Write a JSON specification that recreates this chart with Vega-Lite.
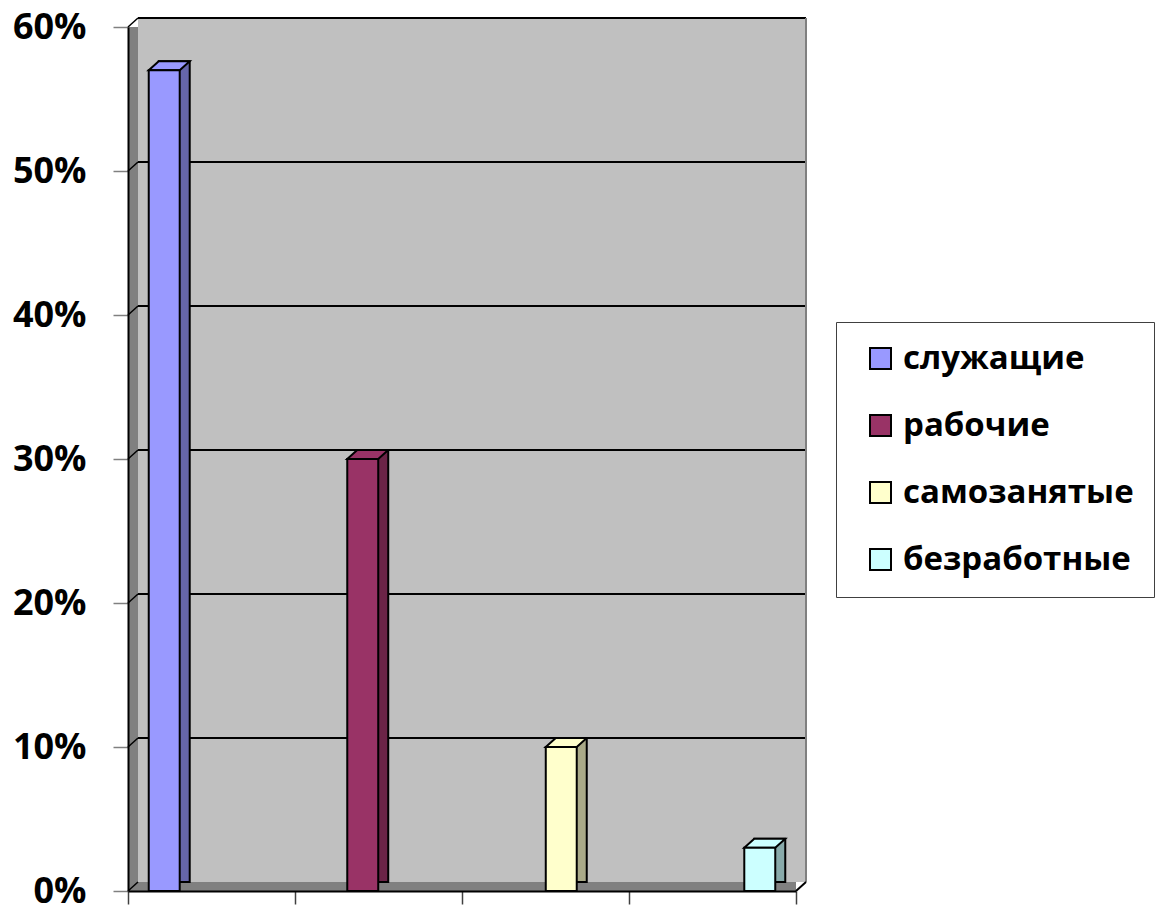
{
  "$schema": "https://vega.github.io/schema/vega-lite/v6.json",
  "width": 668,
  "height": 864,
  "autosize": "none",
  "padding": {"left": 128, "top": 27, "right": 366, "bottom": 19},
  "background": "white",
  "config": {
    "view": {"fill": "#808080", "stroke": null},
    "font": "Open Sans",
    "axisY": {"labelFont": "Open Sans", "labelFontWeight": "bold", "labelFontSize": 36, "labelColor": "black", "tickSize": 15, "tickColor": "#808080", "tickWidth": 1.5, "labelPadding": 27, "domainColor": "black", "domainWidth": 2, "grid": false, "tickCount": 7},
    "axisX": {"labels": false, "tickBand": "extent", "ticks": true, "tickSize": 13, "tickColor": "#404040", "tickWidth": 1.5, "domainColor": "black", "domainWidth": 2, "grid": false}
  },
  "datasets": {
    "bars": [
      {"cat": "служащие", "value": 0.57},
      {"cat": "рабочие", "value": 0.30},
      {"cat": "самозанятые", "value": 0.10},
      {"cat": "безработные", "value": 0.03}
    ],
    "grid": [
      {"t": 0.1}, {"t": 0.2}, {"t": 0.3}, {"t": 0.4}, {"t": 0.5}, {"t": 0.6}
    ],
    "edges": [
      {"t": 0}, {"t": 0.1}, {"t": 0.2}, {"t": 0.3}, {"t": 0.4}, {"t": 0.5}, {"t": 0.6}
    ],
    "one": [{}]
  },
  "layer": [
    {
      "layer": [
        {
          "data": {"name": "one"},
          "mark": {"type": "rect", "fill": "#C0C0C0", "xOffset": 10, "x2Offset": 10, "yOffset": -9, "y2Offset": -9},
          "encoding": {
            "x": {"datum": "1", "type": "nominal", "bandPosition": 0, "scale": {"type": "band", "domain": ["1", "2", "3", "4"], "paddingInner": 0, "paddingOuter": 0}, "axis": {"title": null}},
            "x2": {"datum": "4", "bandPosition": 1},
            "y": {"datum": 0, "type": "quantitative", "scale": {"domain": [0, 0.6], "nice": false}, "axis": {"title": null, "format": ".0%"}},
            "y2": {"datum": 0.6}
          }
        },
        {
          "data": {"name": "grid"},
          "mark": {"type": "rule", "color": "black", "strokeWidth": 2, "xOffset": 10, "x2Offset": 10, "yOffset": -9, "y2Offset": -9},
          "encoding": {
            "x": {"datum": "1", "type": "nominal", "bandPosition": 0, "scale": {"type": "band", "domain": ["1", "2", "3", "4"], "paddingInner": 0, "paddingOuter": 0}, "axis": {"title": null}},
            "x2": {"datum": "4", "bandPosition": 1},
            "y": {"field": "t", "type": "quantitative", "scale": {"domain": [0, 0.6], "nice": false}, "axis": {"title": null, "format": ".0%"}},
            "y2": {"field": "t"}
          }
        },
        {
          "data": {"name": "edges"},
          "mark": {"type": "rule", "color": "black", "strokeWidth": 1.5, "x2Offset": 10, "y2Offset": -9},
          "encoding": {
            "x": {"datum": "1", "type": "nominal", "bandPosition": 0, "scale": {"type": "band", "domain": ["1", "2", "3", "4"], "paddingInner": 0, "paddingOuter": 0}, "axis": {"title": null}},
            "x2": {"datum": "1", "bandPosition": 0},
            "y": {"field": "t", "type": "quantitative", "scale": {"domain": [0, 0.6], "nice": false}, "axis": {"title": null, "format": ".0%"}},
            "y2": {"field": "t"}
          }
        },
        {
          "data": {"name": "one"},
          "mark": {"type": "rule", "color": "#808080", "strokeWidth": 2, "xOffset": 10, "x2Offset": 10, "yOffset": -9, "y2Offset": -9},
          "encoding": {
            "x": {"datum": "4", "type": "nominal", "bandPosition": 1, "scale": {"type": "band", "domain": ["1", "2", "3", "4"], "paddingInner": 0, "paddingOuter": 0}, "axis": {"title": null}},
            "x2": {"datum": "4", "bandPosition": 1},
            "y": {"datum": 0, "type": "quantitative", "scale": {"domain": [0, 0.6], "nice": false}, "axis": {"title": null, "format": ".0%"}},
            "y2": {"datum": 0.6}
          }
        },
        {
          "data": {"name": "one"},
          "mark": {"type": "rule", "color": "black", "strokeWidth": 2, "x2Offset": 10, "y2Offset": -9},
          "encoding": {
            "x": {"datum": "4", "type": "nominal", "bandPosition": 1, "scale": {"type": "band", "domain": ["1", "2", "3", "4"], "paddingInner": 0, "paddingOuter": 0}, "axis": {"title": null}},
            "x2": {"datum": "4", "bandPosition": 1},
            "y": {"datum": 0, "type": "quantitative", "scale": {"domain": [0, 0.6], "nice": false}, "axis": {"title": null, "format": ".0%"}},
            "y2": {"datum": 0}
          }
        }
      ]
    },
    {
      "data": {"name": "bars"},
      "layer": [
        {
          "mark": {"type": "bar", "stroke": "black", "strokeWidth": 2, "xOffset": 10, "yOffset": -9, "y2Offset": -9},
          "encoding": {
            "x": {"field": "cat", "type": "nominal", "sort": null, "scale": {"type": "band", "paddingInner": 0.844, "paddingOuter": 0.1045}, "axis": null},
            "y": {"field": "value", "type": "quantitative", "scale": {"domain": [0, 0.6], "nice": false}, "axis": {"title": null, "format": ".0%"}},
            "y2": {"datum": 0},
            "fill": {"field": "cat", "type": "nominal", "sort": null, "scale": {"domain": ["безработные", "самозанятые", "рабочие", "служащие"], "range": ["#88AAAA", "#AAAA88", "#6B2447", "#6666AA"]}, "legend": null}
          }
        },
        {
          "mark": {"type": "point", "shape": "M-1,0.22L0.512,0.22L1,-0.22L-0.512,-0.22Z", "size": 1681, "filled": true, "opacity": 1, "stroke": "black", "strokeWidth": 2, "xOffset": 5, "yOffset": -4.5},
          "encoding": {
            "x": {"field": "cat", "type": "nominal", "sort": null, "scale": {"type": "band", "paddingInner": 0.844, "paddingOuter": 0.1045}, "axis": null},
            "y": {"field": "value", "type": "quantitative", "scale": {"domain": [0, 0.6], "nice": false}, "axis": {"title": null, "format": ".0%"}},
            "color": {"field": "cat", "type": "nominal", "sort": null, "scale": {"domain": ["служащие", "рабочие", "самозанятые", "безработные"], "range": ["#9999FF", "#993366", "#FFFFCC", "#CCFFFF"]},
              "legend": {"title": null, "orient": "none", "legendX": 708, "legendY": 295, "fillColor": "white", "strokeColor": "#404040", "padding": 20, "symbolType": "square", "symbolSize": 441, "symbolStrokeColor": "black", "symbolStrokeWidth": 2, "symbolOffset": 8, "labelOffset": 6, "labelFont": "Open Sans", "labelFontWeight": "bold", "labelFontSize": 33, "labelColor": "black", "rowPadding": 33, "labelLimit": 400, "symbolOpacity": 1}}
          }
        },
        {
          "mark": {"type": "bar", "stroke": "black", "strokeWidth": 2},
          "encoding": {
            "x": {"field": "cat", "type": "nominal", "sort": null, "scale": {"type": "band", "paddingInner": 0.844, "paddingOuter": 0.1045}, "axis": null},
            "y": {"field": "value", "type": "quantitative", "scale": {"domain": [0, 0.6], "nice": false}, "axis": {"title": null, "format": ".0%"}},
            "y2": {"datum": 0},
            "color": {"field": "cat", "type": "nominal", "sort": null, "scale": {"domain": ["служащие", "рабочие", "самозанятые", "безработные"], "range": ["#9999FF", "#993366", "#FFFFCC", "#CCFFFF"]},
              "legend": {"title": null, "orient": "none", "legendX": 708, "legendY": 295, "fillColor": "white", "strokeColor": "#404040", "padding": 20, "symbolType": "square", "symbolSize": 441, "symbolStrokeColor": "black", "symbolStrokeWidth": 2, "symbolOffset": 8, "labelOffset": 6, "labelFont": "Open Sans", "labelFontWeight": "bold", "labelFontSize": 33, "labelColor": "black", "rowPadding": 33, "labelLimit": 400, "symbolOpacity": 1}}
          }
        }
      ]
    }
  ],
  "resolve": {"scale": {"x": "independent"}}
}
